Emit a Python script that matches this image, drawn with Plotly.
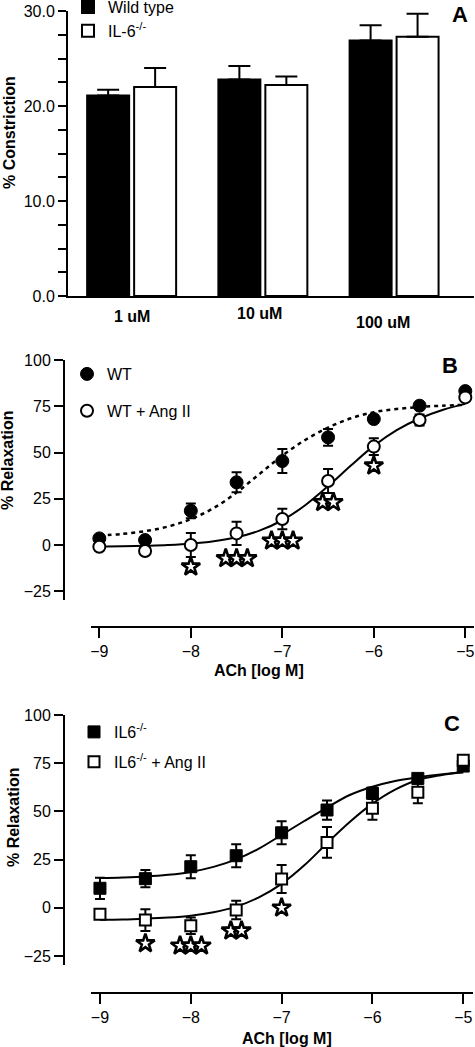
import plotly.graph_objects as go

W, H = 475, 1047
FONT = "Arial, 'Liberation Sans', sans-serif"

# ---------------- Panel A data ----------------
conc_labels = ["1 uM", "10 uM", "100 uM"]
wt_constr = [21.1, 22.8, 26.9]
wt_constr_err = [0.6, 1.4, 1.6]
il6_constr = [22.0, 22.2, 27.3]
il6_constr_err = [2.0, 0.9, 2.4]

# ---------------- Panel B data ----------------
log_ach = [-9, -8.5, -8, -7.5, -7, -6.5, -6, -5.5, -5]
wt_relax = [3.6, 2.7, 18.5, 33.9, 45.4, 58.2, 68.1, 75.3, 83.2]
wt_relax_err = [1.0, 1.0, 4.0, 5.4, 6.5, 4.5, 2.0, 1.5, 1.0]
wt_ang_relax = [-0.9, -3.2, 0.0, 6.3, 14.1, 34.6, 53.2, 67.6, 79.8]
wt_ang_relax_err = [1.0, 1.0, 6.5, 6.3, 5.5, 6.5, 4.5, 3.0, 2.0]

fit_x = [-9, -8.75, -8.5, -8.25, -8, -7.75, -7.5, -7.25, -7, -6.75, -6.5,
         -6.25, -6, -5.75, -5.5, -5.25, -5]
wt_fit = [5.1, 6.0, 7.5, 10.0, 14.0, 20.0, 28.4, 38.4, 48.3, 56.8, 63.5,
          68.5, 71.8, 73.5, 74.6, 75.3, 75.8]
wt_ang_fit = [-0.8, -0.7, -0.4, 0.0, 0.7, 2.0, 4.2, 7.8, 13.4, 21.5, 31.8,
              43.0, 53.6, 62.1, 68.4, 73.0, 76.3]

sig_b_x = [-8, -7.5, -7, -6.5, -6]
sig_b_n = [1, 3, 3, 2, 1]
sig_b_y = [-11.7, -7.2, 2.3, 23.1, 42.9]

# ---------------- Panel C data ----------------
il6_relax = [10.1, 15.1, 21.3, 27.0, 38.9, 50.7, 59.4, 67.1, 73.5]
il6_relax_err = [5.5, 4.5, 6.0, 6.0, 6.0, 5.0, 3.0, 2.0, 1.5]
il6_ang_relax = [-3.4, -6.4, -9.3, -1.2, 14.9, 33.9, 51.6, 59.9, 76.5]
il6_ang_relax_err = [2.0, 5.6, 4.3, 4.8, 7.3, 8.0, 6.0, 5.7, 1.0]

il6_fit = [15.4, 15.7, 16.2, 17.1, 18.6, 21.2, 25.1, 30.7, 37.8, 45.0, 52.0,
           58.5, 62.8, 65.8, 67.7, 69.2, 70.3]
il6_ang_fit = [-6.2, -6.1, -5.7, -5.1, -4.1, -2.3, 0.6, 5.4, 12.4, 22.0, 33.5,
               44.5, 54.0, 61.3, 66.3, 68.8, 70.3]

sig_c_x = [-8.5, -8, -7.5, -7]
sig_c_n = [1, 3, 2, 1]
sig_c_y = [-18.5, -19.7, -11.9, 0.0]

relax_ticks = [-25, 0, 25, 50, 75, 100]
ach_ticks = [-9, -8, -7, -6, -5]


def pxx(p):
    return p / W


def pxy(p):
    return 1 - p / H


def star_points(xs, ns, ys, spacing):
    sx, sy = [], []
    for x, n, y in zip(xs, ns, ys):
        for k in range(n):
            sx.append(x + (k - (n - 1) / 2) * spacing)
            sy.append(y)
    return sx, sy


fig = go.Figure()

# ---- Panel A bars ----
fig.add_trace(go.Bar(
    x=conc_labels, y=wt_constr, name="Wild type",
    marker=dict(color="black", line=dict(color="black", width=2)),
    error_y=dict(type="data", array=wt_constr_err, arrayminus=[0] * 3,
                 symmetric=False, color="black", thickness=2, width=11),
    xaxis="x", yaxis="y", legend="legend", legendgroup="a1"))
fig.add_trace(go.Bar(
    x=conc_labels, y=il6_constr, name="IL-6<sup>-/-</sup>",
    marker=dict(color="white", line=dict(color="black", width=2)),
    error_y=dict(type="data", array=il6_constr_err, arrayminus=[0] * 3,
                 symmetric=False, color="black", thickness=2, width=11),
    xaxis="x", yaxis="y", legend="legend", legendgroup="a2"))

star_marker = dict(symbol="star", size=14, color="white", line=dict(color="black", width=2.6))

# ---- Panel B ----
fig.add_trace(go.Scatter(
    x=fit_x, y=wt_fit, mode="lines", line=dict(color="black", width=2.5, dash="4px,4px"),
    line_shape="spline", showlegend=False, xaxis="x2", yaxis="y2", hoverinfo="skip"))
fig.add_trace(go.Scatter(
    x=fit_x, y=wt_ang_fit, mode="lines", line=dict(color="black", width=2),
    line_shape="spline", showlegend=False, xaxis="x2", yaxis="y2", hoverinfo="skip"))
fig.add_trace(go.Scatter(
    x=log_ach, y=wt_relax, mode="markers", name="WT",
    marker=dict(symbol="circle", size=13, color="black", line=dict(color="black", width=1)),
    error_y=dict(type="data", array=wt_relax_err, color="black", thickness=2, width=5),
    xaxis="x2", yaxis="y2", legend="legend2", legendgroup="b1"))
fig.add_trace(go.Scatter(
    x=log_ach, y=wt_ang_relax, mode="markers", name="WT + Ang II",
    marker=dict(symbol="circle", size=12, color="white", line=dict(color="black", width=2)),
    error_y=dict(type="data", array=wt_ang_relax_err, color="black", thickness=2, width=5),
    xaxis="x2", yaxis="y2", legend="legend2", legendgroup="b2"))
sbx, sby = star_points(sig_b_x, sig_b_n, sig_b_y, 0.118)
fig.add_trace(go.Scatter(
    x=sbx, y=sby, mode="markers", showlegend=False, marker=star_marker,
    xaxis="x2", yaxis="y2"))

# ---- Panel C ----
fig.add_trace(go.Scatter(
    x=fit_x, y=il6_fit, mode="lines", line=dict(color="black", width=2),
    line_shape="spline", showlegend=False, xaxis="x3", yaxis="y3", hoverinfo="skip"))
fig.add_trace(go.Scatter(
    x=fit_x, y=il6_ang_fit, mode="lines", line=dict(color="black", width=2),
    line_shape="spline", showlegend=False, xaxis="x3", yaxis="y3", hoverinfo="skip"))
fig.add_trace(go.Scatter(
    x=log_ach, y=il6_relax, mode="markers", name="IL6<sup>-/-</sup>",
    marker=dict(symbol="square", size=12, color="black", line=dict(color="black", width=1)),
    error_y=dict(type="data", array=il6_relax_err, color="black", thickness=2, width=5),
    xaxis="x3", yaxis="y3", legend="legend3", legendgroup="c1"))
fig.add_trace(go.Scatter(
    x=log_ach, y=il6_ang_relax, mode="markers", name="IL6<sup>-/-</sup> + Ang II",
    marker=dict(symbol="square", size=11, color="white", line=dict(color="black", width=2)),
    error_y=dict(type="data", array=il6_ang_relax_err, color="black", thickness=2, width=5),
    xaxis="x3", yaxis="y3", legend="legend3", legendgroup="c2"))
scx, scy = star_points(sig_c_x, sig_c_n, sig_c_y, 0.118)
fig.add_trace(go.Scatter(
    x=scx, y=scy, mode="markers", showlegend=False, marker=star_marker,
    xaxis="x3", yaxis="y3"))

tickfont = dict(family=FONT, size=16, color="black")
common_y = dict(showline=True, linecolor="black", linewidth=2, ticks="outside",
                tickwidth=2, tickcolor="black", showgrid=False, zeroline=False,
                tickfont=tickfont, fixedrange=True)
common_x = dict(showline=True, linecolor="black", linewidth=2, showgrid=False,
                zeroline=False, tickfont=tickfont, fixedrange=True)

annotations = []
# category labels for panel A
cat_dx = [0, -3, -11]
cat_py = [316, 313, 322]
for lab, dx, py in zip(conc_labels, cat_dx, cat_py):
    annotations.append(dict(text=f"<b>{lab}</b>", x=lab, xref="x", y=pxy(py), yref="paper",
                            xshift=dx, showarrow=False, font=dict(family=FONT, size=16, color="black"),
                            xanchor="center", yanchor="middle"))


def title_ann(text, x, y, angle=0, size=16):
    return dict(text=f"<b>{text}</b>", x=pxx(x), y=pxy(y), xref="paper", yref="paper",
                showarrow=False, textangle=angle, xanchor="center", yanchor="middle",
                font=dict(family=FONT, size=size, color="black"))


annotations += [
    title_ann("% Constriction", 9, 133, -90),
    title_ann("% Relaxation", 8, 460, -90),
    title_ann("% Relaxation", 13, 817, -90),
    title_ann("ACh [log M]", 259, 670),
    title_ann("ACh [log M]", 287, 1038),
    title_ann("A", 460, 15, 0, 22),
    title_ann("B", 450, 365, 0, 22),
    title_ann("C", 452, 723, 0, 22),
]

legfont = dict(family=FONT, size=16, color="black")
fig.update_layout(
    width=W, height=H, margin=dict(l=0, r=0, t=0, b=0, autoexpand=False),
    paper_bgcolor="white", plot_bgcolor="white",
    barmode="group", bargap=0.284, bargroupgap=0.106,
    xaxis=dict(domain=[pxx(68), pxx(474)], range=[-0.485, 2.609], type="category",
               ticks="", showticklabels=False, anchor="y", **common_x),
    yaxis=dict(domain=[pxy(296), pxy(11)], range=[0, 30], tick0=0, dtick=10,
               tickformat=".1f", ticklen=8, anchor="x",
               minor=dict(dtick=2.5, ticks="outside", ticklen=8, tickwidth=2,
                          tickcolor="black", showgrid=False),
               **common_y),
    xaxis2=dict(domain=[pxx(91), pxx(474)], range=[-9.091, -4.905], anchor="free",
                position=pxy(626.7), ticks="outside", ticklen=10, tickwidth=2,
                tickcolor="black", tickvals=ach_ticks, **common_x),
    yaxis2=dict(domain=[pxy(600), pxy(360)], range=[-29.7, 100], anchor="free",
                position=pxx(64), tickvals=relax_ticks, ticklen=9, **common_y),
    xaxis3=dict(domain=[pxx(90.7), pxx(472.7)], range=[-9.102, -4.896], anchor="free",
                position=pxy(992.7), ticks="outside", ticklen=10, tickwidth=2,
                tickcolor="black", tickvals=ach_ticks, **common_x),
    yaxis3=dict(domain=[pxy(965), pxy(715)], range=[-29.7, 100], anchor="free",
                position=pxx(64), tickvals=relax_ticks, ticklen=9, **common_y),
    legend=dict(x=pxx(68), y=pxy(-10), xanchor="left", yanchor="top", font=legfont,
                bgcolor="rgba(0,0,0,0)", tracegroupgap=0),
    legend2=dict(x=pxx(67), y=pxy(357), xanchor="left", yanchor="top", font=legfont,
                 bgcolor="rgba(0,0,0,0)", tracegroupgap=13),
    legend3=dict(x=pxx(74), y=pxy(715), xanchor="left", yanchor="top", font=legfont,
                 bgcolor="rgba(0,0,0,0)", tracegroupgap=6),
    annotations=annotations,
    showlegend=True,
)

fig.write_html(
    "out.html",
    config={"displayModeBar": False},
    post_script="document.body.style.margin='0';document.body.style.overflow='hidden';",
)
